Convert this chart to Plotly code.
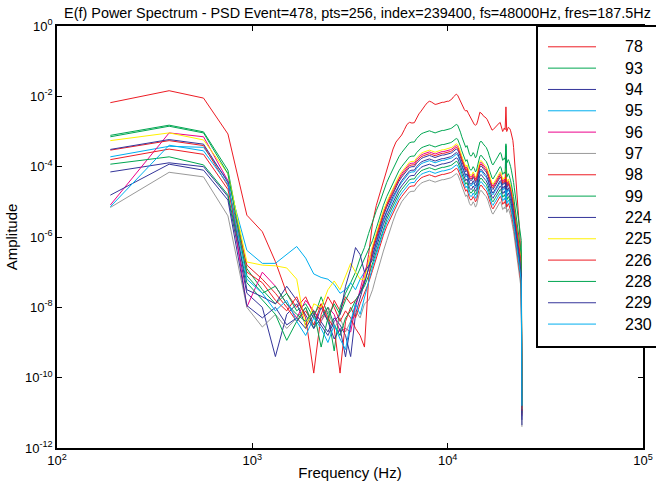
import plotly.graph_objects as go

# Frequency bins: fs=48000 Hz, 256 points -> fres = 187.5 Hz, bins 1..128
fres_hz = 187.5
n_bins = 128
freq_hz = [fres_hz * k for k in range(1, n_bins + 1)]

# log10(amplitude), one list per channel (128 bins each)
s78 = [-2.18, -1.84, -2.05, -3.07, -5.38, -5.85, -6.70, -7.60, -8.00, -7.70,
       -8.20, -7.90, -8.40, -7.80, -8.10, -7.70, -7.90, -7.80, -7.60, -7.20,
       -6.50, -5.60, -5.10, -4.75, -4.40, -4.05, -3.75, -3.50, -3.30, -3.18,
       -3.10, -2.95, -2.80, -2.74, -2.76, -2.75, -2.62, -2.50, -2.42, -2.35,
       -2.25, -2.18, -2.14, -2.16, -2.20, -2.23, -2.22, -2.20, -2.18, -2.17,
       -2.17, -2.15, -2.14, -2.14, -2.12, -2.08, -2.02, -1.97, -1.94, -1.97,
       -2.05, -2.15, -2.25, -2.32, -2.38, -2.42, -2.40, -2.48, -2.55, -2.60,
       -2.68, -2.75, -2.80, -2.82, -2.80, -2.70, -2.55, -2.45, -2.48, -2.50,
       -2.55, -2.57, -2.60, -2.62, -2.66, -2.72, -2.80, -2.88, -2.93, -2.96,
       -2.95, -2.92, -2.88, -2.85, -2.82, -2.80, -2.78, -2.76, -2.74, -2.85,
       -2.95, -3.00, -2.95, -2.90, -2.95, -2.30, -3.00, -2.90, -2.88, -2.90,
       -2.92, -2.98, -3.05, -3.15, -3.25, -3.45, -3.70, -3.95, -4.20, -4.50,
       -4.80, -5.10, -5.40, -5.70, -6.00, -6.30, -6.60, -10.70]
s93 = [-3.11, -2.82, -3.01, -4.10, -6.90, -7.50, -7.90, -7.60, -8.10, -7.90,
       -8.30, -7.70, -8.20, -9.24, -8.00, -7.60, -7.30, -7.00, -6.60, -6.30,
       -5.90, -5.55, -5.25, -5.00, -4.70, -4.45, -4.25, -4.05, -3.88, -3.72,
       -3.60, -3.50, -3.40, -3.32, -3.30, -3.30, -3.20, -3.12, -3.07, -3.04,
       -3.02, -3.00, -2.98, -3.00, -3.02, -3.04, -3.02, -3.00, -2.98, -2.97,
       -2.97, -2.96, -2.95, -2.94, -2.92, -2.90, -2.87, -2.83, -2.80, -2.82,
       -2.90, -3.02, -3.15, -3.25, -3.35, -3.45, -3.40, -3.55, -3.65, -3.70,
       -3.68, -3.60, -3.65, -3.75, -3.70, -3.55, -3.40, -3.30, -3.28, -3.30,
       -3.35, -3.40, -3.42, -3.45, -3.50, -3.58, -3.68, -3.78, -3.85, -3.92,
       -3.95, -3.92, -3.86, -3.82, -3.78, -3.74, -3.70, -3.65, -3.60, -3.62,
       -3.72, -3.82, -3.80, -3.75, -3.80, -3.40, -3.90, -3.85, -3.80, -3.85,
       -3.90, -4.00, -4.10, -4.20, -4.30, -4.45, -4.60, -4.75, -4.90, -5.05,
       -5.20, -5.35, -5.50, -5.65, -5.80, -5.95, -6.10, -10.60]
s94 = [-4.15, -3.89, -4.00, -4.85, -7.60, -8.00, -9.40, -8.20, -7.90, -8.50,
       -8.10, -8.40, -8.70, -8.30, -8.50, -8.80, -9.40, -8.20, -7.70, -7.30,
       -6.90, -6.40, -6.05, -5.70, -5.40, -5.15, -4.95, -4.75, -4.58, -4.42,
       -4.30, -4.20, -4.10, -4.02, -4.00, -4.00, -3.90, -3.82, -3.77, -3.74,
       -3.72, -3.70, -3.68, -3.70, -3.72, -3.74, -3.72, -3.70, -3.68, -3.67,
       -3.67, -3.66, -3.65, -3.64, -3.62, -3.60, -3.57, -3.53, -3.50, -3.52,
       -3.60, -3.72, -3.85, -3.95, -4.05, -4.15, -4.10, -4.25, -4.35, -4.40,
       -4.38, -4.30, -4.35, -4.45, -4.40, -4.25, -4.10, -4.00, -3.98, -4.00,
       -4.05, -4.10, -4.12, -4.15, -4.20, -4.28, -4.38, -4.48, -4.55, -4.62,
       -4.65, -4.62, -4.56, -4.52, -4.48, -4.44, -4.40, -4.35, -4.30, -4.32,
       -4.42, -4.52, -4.50, -4.45, -4.50, -3.70, -4.60, -4.55, -4.50, -4.55,
       -4.60, -4.70, -4.80, -4.90, -5.00, -5.15, -5.30, -5.45, -5.60, -5.75,
       -5.90, -6.05, -6.20, -6.35, -6.50, -6.65, -6.80, -11.10]
s95 = [-3.72, -3.42, -3.45, -4.40, -6.38, -6.75, -6.75, -6.50, -6.27, -6.60,
       -7.05, -7.15, -7.20, -7.35, -7.60, -7.50, -7.30, -7.50, -7.20, -7.00,
       -6.80, -6.55, -6.20, -5.85, -5.55, -5.30, -5.10, -4.90, -4.73, -4.57,
       -4.45, -4.35, -4.25, -4.17, -4.15, -4.15, -4.05, -3.97, -3.92, -3.89,
       -3.87, -3.85, -3.83, -3.85, -3.87, -3.89, -3.87, -3.85, -3.83, -3.82,
       -3.82, -3.81, -3.80, -3.79, -3.77, -3.75, -3.72, -3.68, -3.65, -3.67,
       -3.75, -3.87, -4.00, -4.10, -4.20, -4.30, -4.25, -4.40, -4.50, -4.55,
       -4.53, -4.45, -4.50, -4.60, -4.55, -4.40, -4.25, -4.15, -4.13, -4.15,
       -4.20, -4.25, -4.27, -4.30, -4.35, -4.43, -4.53, -4.63, -4.70, -4.77,
       -4.80, -4.77, -4.71, -4.67, -4.63, -4.59, -4.55, -4.50, -4.45, -4.47,
       -4.57, -4.67, -4.65, -4.60, -4.65, -4.35, -4.75, -4.70, -4.65, -4.70,
       -4.75, -4.85, -4.95, -5.05, -5.15, -5.30, -5.45, -5.60, -5.75, -5.90,
       -6.05, -6.20, -6.35, -6.50, -6.65, -6.80, -6.95, -10.90]
s96 = [-5.09, -3.04, -3.15, -4.40, -7.99, -7.00, -7.40, -7.90, -8.30, -7.80,
       -8.10, -8.40, -8.00, -8.20, -8.70, -8.60, -8.70, -8.00, -7.50, -7.00,
       -6.70, -6.30, -5.95, -5.60, -5.30, -5.05, -4.85, -4.65, -4.48, -4.32,
       -4.20, -4.10, -4.00, -3.92, -3.90, -3.90, -3.80, -3.72, -3.67, -3.64,
       -3.62, -3.60, -3.58, -3.60, -3.62, -3.64, -3.62, -3.60, -3.58, -3.57,
       -3.57, -3.56, -3.55, -3.54, -3.52, -3.50, -3.47, -3.43, -3.40, -3.42,
       -3.50, -3.62, -3.75, -3.85, -3.95, -4.05, -4.00, -4.15, -4.25, -4.30,
       -4.28, -4.20, -4.25, -4.35, -4.30, -4.15, -4.00, -3.90, -3.88, -3.90,
       -3.95, -4.00, -4.02, -4.05, -4.10, -4.18, -4.28, -4.38, -4.45, -4.52,
       -4.55, -4.52, -4.46, -4.42, -4.38, -4.34, -4.30, -4.25, -4.20, -4.22,
       -4.32, -4.42, -4.40, -4.35, -4.40, -4.10, -4.50, -4.45, -4.40, -4.45,
       -4.50, -4.60, -4.70, -4.80, -4.90, -5.05, -5.20, -5.35, -5.50, -5.65,
       -5.80, -5.95, -6.10, -6.25, -6.40, -6.55, -6.70, -10.85]
s97 = [-5.16, -4.16, -4.29, -5.40, -8.00, -8.56, -8.20, -8.60, -8.30, -8.00,
       -8.50, -8.40, -8.10, -8.60, -8.30, -8.70, -8.40, -8.10, -8.30, -7.90,
       -7.80, -7.50, -7.10, -6.70, -6.40, -6.10, -5.80, -5.55, -5.32, -5.14,
       -5.00, -4.90, -4.80, -4.72, -4.70, -4.70, -4.60, -4.52, -4.47, -4.44,
       -4.42, -4.40, -4.38, -4.40, -4.42, -4.44, -4.42, -4.40, -4.38, -4.37,
       -4.37, -4.36, -4.35, -4.34, -4.32, -4.30, -4.27, -4.23, -4.20, -4.22,
       -4.30, -4.42, -4.55, -4.65, -4.75, -4.85, -4.80, -4.95, -5.05, -5.10,
       -5.08, -5.00, -5.05, -5.15, -5.10, -4.95, -4.80, -4.70, -4.68, -4.70,
       -4.75, -4.80, -4.82, -4.85, -4.90, -4.98, -5.08, -5.18, -5.25, -5.32,
       -5.35, -5.32, -5.26, -5.22, -5.18, -5.14, -5.10, -5.05, -5.00, -5.02,
       -5.12, -5.22, -5.20, -5.15, -5.20, -4.90, -5.30, -5.25, -5.20, -5.25,
       -5.30, -5.40, -5.50, -5.60, -5.70, -5.85, -6.00, -6.15, -6.30, -6.45,
       -6.60, -6.75, -6.90, -7.05, -7.20, -7.35, -7.50, -11.40]
s98 = [-3.53, -3.26, -3.40, -4.55, -6.80, -7.20, -7.60, -8.00, -8.40, -8.10,
       -8.50, -7.90, -8.30, -8.60, -9.87, -8.40, -8.00, -8.30, -7.90, -7.60,
       -7.30, -6.95, -6.60, -6.25, -5.95, -5.70, -5.50, -5.30, -5.13, -4.97,
       -4.85, -4.75, -4.65, -4.57, -4.55, -4.55, -4.45, -4.37, -4.32, -4.29,
       -4.27, -4.25, -4.23, -4.25, -4.27, -4.29, -4.27, -4.25, -4.23, -4.22,
       -4.22, -4.21, -4.20, -4.19, -4.17, -4.15, -4.12, -4.08, -4.05, -4.07,
       -4.15, -4.27, -4.40, -4.50, -4.60, -4.70, -4.65, -4.80, -4.90, -4.95,
       -4.93, -4.85, -4.90, -5.00, -4.95, -4.80, -4.65, -4.55, -4.53, -4.55,
       -4.60, -4.65, -4.67, -4.70, -4.75, -4.83, -4.93, -5.03, -5.10, -5.17,
       -5.20, -5.17, -5.11, -5.07, -5.03, -4.99, -4.95, -4.90, -4.85, -4.87,
       -4.97, -5.07, -5.05, -5.00, -5.05, -4.75, -5.15, -5.10, -5.05, -5.10,
       -5.15, -5.25, -5.35, -5.45, -5.55, -5.70, -5.85, -6.00, -6.15, -6.30,
       -6.45, -6.60, -6.75, -6.90, -7.05, -7.20, -7.35, -11.05]
s99 = [-3.93, -3.72, -3.95, -4.80, -7.30, -7.80, -8.20, -8.94, -8.40, -8.00,
       -8.60, -8.30, -8.00, -8.50, -8.80, -8.30, -8.10, -7.80, -7.60, -7.40,
       -7.10, -6.75, -6.40, -6.05, -5.75, -5.50, -5.30, -5.10, -4.93, -4.77,
       -4.65, -4.55, -4.45, -4.37, -4.35, -4.35, -4.25, -4.17, -4.12, -4.09,
       -4.07, -4.05, -4.03, -4.05, -4.07, -4.09, -4.07, -4.05, -4.03, -4.02,
       -4.02, -4.01, -4.00, -3.99, -3.97, -3.95, -3.92, -3.88, -3.85, -3.87,
       -3.95, -4.07, -4.20, -4.30, -4.40, -4.50, -4.45, -4.60, -4.70, -4.75,
       -4.73, -4.65, -4.70, -4.80, -4.75, -4.60, -4.45, -4.35, -4.33, -4.35,
       -4.40, -4.45, -4.47, -4.50, -4.55, -4.63, -4.73, -4.83, -4.90, -4.97,
       -5.00, -4.97, -4.91, -4.87, -4.83, -4.79, -4.75, -4.70, -4.65, -4.67,
       -4.77, -4.87, -4.85, -4.80, -4.85, -4.55, -4.95, -4.90, -4.85, -4.90,
       -4.95, -5.05, -5.15, -5.25, -5.35, -5.50, -5.65, -5.80, -5.95, -6.10,
       -6.25, -6.40, -6.55, -6.70, -6.85, -7.00, -7.15, -11.00]
s224 = [-3.51, -3.23, -3.36, -4.45, -7.50, -7.70, -7.90, -7.40, -7.80, -8.20,
        -8.60, -8.00, -8.40, -8.90, -8.60, -9.41, -8.50, -7.90, -7.60, -7.30,
        -6.90, -6.50, -6.15, -5.80, -5.50, -5.25, -5.05, -4.85, -4.68, -4.52,
        -4.40, -4.30, -4.20, -4.12, -4.10, -4.10, -4.00, -3.92, -3.87, -3.84,
        -3.82, -3.80, -3.78, -3.80, -3.82, -3.84, -3.82, -3.80, -3.78, -3.77,
        -3.77, -3.76, -3.75, -3.74, -3.72, -3.70, -3.67, -3.63, -3.60, -3.62,
        -3.70, -3.82, -3.95, -4.05, -4.15, -4.25, -4.20, -4.35, -4.45, -4.50,
        -4.48, -4.40, -4.45, -4.55, -4.50, -4.35, -4.20, -4.10, -4.08, -4.10,
        -4.15, -4.20, -4.22, -4.25, -4.30, -4.38, -4.48, -4.58, -4.65, -4.72,
        -4.75, -4.72, -4.66, -4.62, -4.58, -4.54, -4.50, -4.45, -4.40, -4.42,
        -4.52, -4.62, -4.60, -4.55, -4.60, -4.30, -4.70, -4.65, -4.60, -4.65,
        -4.70, -4.80, -4.90, -5.00, -5.10, -5.25, -5.40, -5.55, -5.70, -5.85,
        -6.00, -6.15, -6.30, -6.45, -6.60, -6.75, -6.90, -11.20]
s225 = [-3.26, -3.04, -3.24, -4.20, -6.71, -6.80, -6.82, -6.88, -7.20, -8.60,
        -7.90, -8.00, -7.50, -7.25, -7.50, -7.10, -6.75, -7.00, -7.20, -7.20,
        -6.70, -6.25, -5.90, -5.55, -5.25, -5.00, -4.80, -4.60, -4.43, -4.27,
        -4.15, -4.05, -3.95, -3.87, -3.85, -3.85, -3.75, -3.67, -3.62, -3.59,
        -3.57, -3.55, -3.53, -3.55, -3.57, -3.59, -3.57, -3.55, -3.53, -3.52,
        -3.52, -3.51, -3.50, -3.49, -3.47, -3.45, -3.42, -3.38, -3.35, -3.37,
        -3.45, -3.57, -3.70, -3.80, -3.90, -4.00, -3.95, -4.10, -4.20, -4.25,
        -4.23, -4.15, -4.20, -4.30, -4.25, -4.10, -3.95, -3.85, -3.83, -3.85,
        -3.90, -3.95, -3.97, -4.00, -4.05, -4.13, -4.23, -4.33, -4.40, -4.47,
        -4.50, -4.47, -4.41, -4.37, -4.33, -4.29, -4.25, -4.20, -4.15, -4.17,
        -4.27, -4.37, -4.35, -4.30, -4.35, -4.05, -4.45, -4.40, -4.35, -4.40,
        -4.45, -4.55, -4.65, -4.75, -4.85, -5.00, -5.15, -5.30, -5.45, -5.60,
        -5.75, -5.90, -6.05, -6.20, -6.35, -6.50, -6.65, -10.90]
s226 = [-3.80, -3.50, -3.65, -4.65, -7.00, -7.30, -7.80, -8.10, -7.70, -8.30,
        -9.87, -8.20, -7.70, -8.00, -8.40, -8.10, -8.30, -8.60, -8.80, -9.13,
        -7.20, -6.35, -6.00, -5.65, -5.35, -5.10, -4.90, -4.70, -4.53, -4.37,
        -4.25, -4.15, -4.05, -3.97, -3.95, -3.95, -3.85, -3.77, -3.72, -3.69,
        -3.67, -3.65, -3.63, -3.65, -3.67, -3.69, -3.67, -3.65, -3.63, -3.62,
        -3.62, -3.61, -3.60, -3.59, -3.57, -3.55, -3.52, -3.48, -3.45, -3.47,
        -3.55, -3.67, -3.80, -3.90, -4.00, -4.10, -4.05, -4.20, -4.30, -4.35,
        -4.33, -4.25, -4.30, -4.40, -4.35, -4.20, -4.05, -3.95, -3.93, -3.95,
        -4.00, -4.05, -4.07, -4.10, -4.15, -4.23, -4.33, -4.43, -4.50, -4.57,
        -4.60, -4.57, -4.51, -4.47, -4.43, -4.39, -4.35, -4.30, -4.25, -4.27,
        -4.37, -4.47, -4.45, -4.40, -4.45, -4.15, -4.55, -4.50, -4.45, -4.50,
        -4.55, -4.65, -4.75, -4.85, -4.95, -5.10, -5.25, -5.40, -5.55, -5.70,
        -5.85, -6.00, -6.15, -6.30, -6.45, -6.60, -6.75, -10.95]
s228 = [-3.15, -2.85, -3.04, -4.20, -7.10, -7.60, -7.40, -7.90, -8.20, -8.40,
        -8.10, -9.13, -8.30, -7.90, -8.20, -7.80, -7.50, -7.20, -6.90, -6.60,
        -6.35, -6.10, -5.75, -5.40, -5.10, -4.85, -4.65, -4.45, -4.28, -4.12,
        -4.00, -3.90, -3.80, -3.72, -3.70, -3.70, -3.60, -3.52, -3.47, -3.44,
        -3.42, -3.40, -3.38, -3.40, -3.42, -3.44, -3.42, -3.40, -3.38, -3.37,
        -3.37, -3.36, -3.35, -3.34, -3.32, -3.30, -3.27, -3.23, -3.20, -3.22,
        -3.30, -3.42, -3.55, -3.65, -3.75, -3.85, -3.80, -3.95, -4.05, -4.10,
        -4.08, -4.00, -4.05, -4.15, -4.10, -3.95, -3.80, -3.70, -3.68, -3.70,
        -3.75, -3.80, -3.82, -3.85, -3.90, -3.98, -4.08, -4.18, -4.25, -4.32,
        -4.35, -4.32, -4.26, -4.22, -4.18, -4.14, -4.10, -4.05, -4.00, -4.02,
        -4.12, -4.22, -4.20, -4.15, -4.20, -3.35, -4.30, -4.25, -4.20, -4.25,
        -4.30, -4.40, -4.50, -4.60, -4.70, -4.85, -5.00, -5.15, -5.30, -5.45,
        -5.60, -5.75, -5.90, -6.05, -6.20, -6.35, -6.50, -10.80]
s229 = [-4.81, -3.93, -4.10, -4.95, -7.95, -8.30, -8.00, -8.50, -8.30, -8.60,
        -8.20, -8.50, -8.80, -8.40, -8.20, -7.40, -6.90, -6.30, -6.50, -7.00,
        -6.80, -6.65, -6.30, -5.95, -5.65, -5.40, -5.20, -5.00, -4.83, -4.67,
        -4.55, -4.45, -4.35, -4.27, -4.25, -4.25, -4.15, -4.07, -4.02, -3.99,
        -3.97, -3.95, -3.93, -3.95, -3.97, -3.99, -3.97, -3.95, -3.93, -3.92,
        -3.92, -3.91, -3.90, -3.89, -3.87, -3.85, -3.82, -3.78, -3.75, -3.77,
        -3.85, -3.97, -4.10, -4.20, -4.30, -4.40, -4.35, -4.50, -4.60, -4.65,
        -4.63, -4.55, -4.60, -4.70, -4.65, -4.50, -4.35, -4.25, -4.23, -4.25,
        -4.30, -4.35, -4.37, -4.40, -4.45, -4.53, -4.63, -4.73, -4.80, -4.87,
        -4.90, -4.87, -4.81, -4.77, -4.73, -4.69, -4.65, -4.60, -4.55, -4.57,
        -4.67, -4.77, -4.75, -4.70, -4.75, -4.45, -4.85, -4.80, -4.75, -4.80,
        -4.85, -4.95, -5.05, -5.15, -5.25, -5.40, -5.55, -5.70, -5.85, -6.00,
        -6.15, -6.30, -6.45, -6.60, -6.75, -6.90, -7.05, -11.35]
s230 = [-5.14, -3.39, -3.55, -4.50, -7.20, -7.60, -8.10, -7.80, -8.40, -8.80,
        -8.30, -8.60, -9.00, -8.50, -8.90, -9.20, -8.40, -7.90, -8.20, -7.70,
        -7.30, -6.85, -6.50, -6.15, -5.85, -5.60, -5.40, -5.20, -5.03, -4.87,
        -4.75, -4.65, -4.55, -4.47, -4.45, -4.45, -4.35, -4.27, -4.22, -4.19,
        -4.17, -4.15, -4.13, -4.15, -4.17, -4.19, -4.17, -4.15, -4.13, -4.12,
        -4.12, -4.11, -4.10, -4.09, -4.07, -4.05, -4.02, -3.98, -3.95, -3.97,
        -4.05, -4.17, -4.30, -4.40, -4.50, -4.60, -4.55, -4.70, -4.80, -4.85,
        -4.83, -4.75, -4.80, -4.90, -4.85, -4.70, -4.55, -4.45, -4.43, -4.45,
        -4.50, -4.55, -4.57, -4.60, -4.65, -4.73, -4.83, -4.93, -5.00, -5.07,
        -5.10, -5.07, -5.01, -4.97, -4.93, -4.89, -4.85, -4.80, -4.75, -4.77,
        -4.87, -4.97, -4.95, -4.90, -4.95, -4.65, -5.05, -5.00, -4.95, -5.00,
        -5.05, -5.15, -5.25, -5.35, -5.45, -5.60, -5.75, -5.90, -6.05, -6.20,
        -6.35, -6.50, -6.65, -6.80, -6.95, -7.10, -7.25, -10.80]

series_names = ["78", "93", "94", "95", "96", "97", "98", "99",
                "224", "225", "226", "228", "229", "230"]
series_log_amp = [s78, s93, s94, s95, s96, s97, s98, s99,
                  s224, s225, s226, s228, s229, s230]
series_colors = ["#ed1c24", "#00a651", "#34359a", "#00aeef", "#ec008c", "#999999", "#ed1c24",
                 "#00a651", "#34359a", "#fff200", "#ed1c24", "#00a651", "#34359a", "#00aeef"]

x_tick_vals = [1e2, 1e3, 1e4, 1e5]
x_tick_text = ["10<sup>2</sup>", "10<sup>3</sup>", "10<sup>4</sup>", "10<sup>5</sup>"]
y_tick_vals = [1e0, 1e-2, 1e-4, 1e-6, 1e-8, 1e-10, 1e-12]
y_tick_text = ["10<sup>0</sup>", "10<sup>-2</sup>", "10<sup>-4</sup>", "10<sup>-6</sup>",
               "10<sup>-8</sup>", "10<sup>-10</sup>", "10<sup>-12</sup>"]

for vals in series_log_amp:
    assert len(vals) == n_bins, len(vals)

# ---- layout geometry (pixels) ----
W, H = 656, 483
M_L, M_R, M_T, M_B = 57, 13, 26, 35
PW, PH = W - M_L - M_R, H - M_T - M_B


def px_to_paper_x(px):
    return (px - M_L) / PW


def px_to_paper_y(py):
    return (H - M_B - py) / PH


fig = go.Figure()
for name, color, vals in zip(series_names, series_colors, series_log_amp):
    fig.add_trace(go.Scatter(
        x=freq_hz, y=[10 ** v for v in vals], mode="lines", name=name,
        line=dict(color=color, width=1), showlegend=False))

# ---- boxed legend at the top right (extends past the figure edge) ----
LEG_LEFT, LEG_RIGHT, LEG_TOP, LEG_BOTTOM = 537, 700, 26, 347
ROW0, ROW_STEP = 46.8, 21.33
LINE_X0, LINE_X1, TEXT_X = 548, 596, 623
shapes = [dict(type="rect", xref="paper", yref="paper",
               x0=px_to_paper_x(LEG_LEFT), x1=px_to_paper_x(LEG_RIGHT),
               y0=px_to_paper_y(LEG_BOTTOM), y1=px_to_paper_y(LEG_TOP),
               line=dict(color="black", width=2), fillcolor="white", layer="above")]
annotations = []
for i, (name, color) in enumerate(zip(series_names, series_colors)):
    yy = px_to_paper_y(ROW0 + i * ROW_STEP)
    shapes.append(dict(type="line", xref="paper", yref="paper",
                       x0=px_to_paper_x(LINE_X0), x1=px_to_paper_x(LINE_X1), y0=yy, y1=yy,
                       line=dict(color=color, width=1), layer="above"))
    annotations.append(dict(text=name, xref="paper", yref="paper",
                            x=px_to_paper_x(TEXT_X), y=yy, xanchor="left", yanchor="middle",
                            showarrow=False, font=dict(size=16, color="black")))

font_family = "Liberation Sans, Arial, Helvetica, sans-serif"
axis_common = dict(
    showline=True, linecolor="black", linewidth=1.5, mirror="ticks",
    ticks="inside", ticklen=5, tickwidth=1, tickcolor="black",
    showgrid=False, zeroline=False, automargin=False,
    tickfont=dict(size=13, color="black"),
)
fig.update_layout(
    width=W, height=H,
    margin=dict(l=M_L, r=M_R, t=M_T, b=M_B, autoexpand=False),
    paper_bgcolor="white", plot_bgcolor="white",
    font=dict(family=font_family, color="black", size=13),
    title=dict(text="E(f) Power Spectrum - PSD Event=478, pts=256, index=239400, fs=48000Hz, fres=187.5Hz",
               x=357.5 / W, xref="container", xanchor="center",
               y=1 - 13 / H, yref="container", yanchor="middle",
               font=dict(size=14.4, color="black")),
    xaxis=dict(type="log", range=[2, 5], tickvals=x_tick_vals, ticktext=x_tick_text,
               title=dict(text="Frequency (Hz)", font=dict(size=15), standoff=0), **axis_common),
    yaxis=dict(type="log", range=[-12, 0], tickvals=y_tick_vals, ticktext=y_tick_text,
               title=dict(text="Amplitude", font=dict(size=15), standoff=4), **axis_common),
    shapes=shapes,
    annotations=annotations,
    showlegend=False,
)

# remove the default page margin so the 656x483 figure fills the window exactly
fig.write_html("out.html",
               config={"displayModeBar": False},
               post_script="document.body.style.margin='0';document.body.style.overflow='hidden';")
